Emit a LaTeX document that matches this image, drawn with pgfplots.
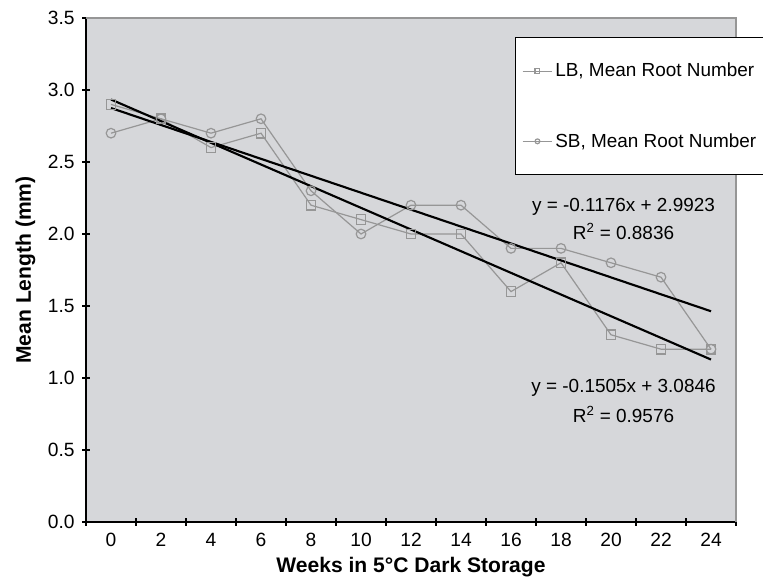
\documentclass[border=0pt]{standalone}
\usepackage{pgfplots}
\pgfplotsset{compat=1.18}
\usepackage{fontspec}
\setmainfont{Liberation Sans}
\definecolor{plotbg}{RGB}{214,215,218}
\definecolor{serie}{RGB}{150,150,150}

\begin{document}
\begin{tikzpicture}[x=1pt,y=1pt]
\begin{axis}[
    name=ax,
    scale only axis,
    width=487.5pt, height=378pt,
    xmin=-0.5, xmax=12.5,
    ymin=0, ymax=3.5,
    axis lines=left,
    axis line style={-, black, line width=1.3pt},
    axis background/.style={fill=plotbg},
    xtick={0,...,12},
    xticklabels={0,2,4,6,8,10,12,14,16,18,20,22,24},
    major x tick style={draw=none},
    minor xtick={-0.5,0.5,...,12.5},
    minor tick length=6pt,
    ytick={0,0.5,...,3.5},
    major tick length=6pt,
    tick align=center,
    tick style={black, line width=1pt},
    /pgf/number format/assume math mode=true,
    tick label style={font=\fontsize{14.4}{17}\selectfont},
    xticklabel style={yshift=-2pt},
    yticklabel style={xshift=-2pt, /pgf/number format/.cd, fixed, fixed zerofill, precision=1},
    xlabel={\textbf{Weeks in 5\textdegree C Dark Storage}},
    ylabel={\textbf{Mean Length (mm)}},
    label style={font=\fontsize{15.8}{18}\selectfont},
    xlabel style={yshift=-1pt},
    ylabel style={yshift=2.5pt},
    clip=false,
    legend style={at={(rel axis cs:0.660,0.962)}, anchor=north west,
        draw=black, line width=0.9pt, fill=white,
        font=\fontsize{14.2}{17}\selectfont,
        row sep=37pt, inner xsep=5pt, inner ysep=17pt,
        legend cell align=left},
    legend image code/.code={
        \draw[#1, line width=0.6pt] (0cm,0cm) -- (0.78cm,0cm);
        \draw[#1, mark size=1.8pt, line width=0.6pt] plot coordinates {(0.39cm,0cm)};
    },
]
\addplot[serie, line width=0.9pt, mark=square, mark size=3.6pt,
    mark options={line width=0.9pt}] coordinates {
    (0,2.9) (1,2.8) (2,2.6) (3,2.7) (4,2.2) (5,2.1) (6,2.0)
    (7,2.0) (8,1.6) (9,1.8) (10,1.3) (11,1.2) (12,1.2)
};
\addlegendentry{LB, Mean Root Number}

\addplot[serie, line width=0.9pt, mark=o, mark size=3.6pt,
    mark options={line width=0.9pt}] coordinates {
    (0,2.7) (1,2.8) (2,2.7) (3,2.8) (4,2.3) (5,2.0) (6,2.2)
    (7,2.2) (8,1.9) (9,1.9) (10,1.8) (11,1.7) (12,1.2)
};
\addlegendentry{SB, Mean Root Number}

% trend lines (Excel fits, x = 1..13)
\addplot[black, line width=1.6pt, forget plot] coordinates {(0,2.8747) (12,1.4635)};
\addplot[black, line width=1.6pt, forget plot] coordinates {(0,2.9341) (12,1.1281)};

\draw[serie, line width=0.8pt] (rel axis cs:0,1) -- (rel axis cs:1,1) -- (rel axis cs:1,0);

\node[font=\fontsize{14.2}{17}\selectfont] at (axis cs:10.25,2.19) {y = -0.1176x + 2.9923};
\node[font=\fontsize{14.2}{17}\selectfont] at (axis cs:10.25,2.02) {R$^{\mathrm{2}}$ = 0.8836};
\node[font=\fontsize{14.2}{17}\selectfont] at (axis cs:10.25,0.93) {y = -0.1505x + 3.0846};
\node[font=\fontsize{14.2}{17}\selectfont] at (axis cs:10.25,0.75) {R$^{\mathrm{2}}$ = 0.9576};
\end{axis}
\pgfresetboundingbox
\path ([xshift=-64.5pt, yshift=-48pt]ax.south west) rectangle ([xshift=20.25pt, yshift=13.5pt]ax.north east);
\end{tikzpicture}
\end{document}
